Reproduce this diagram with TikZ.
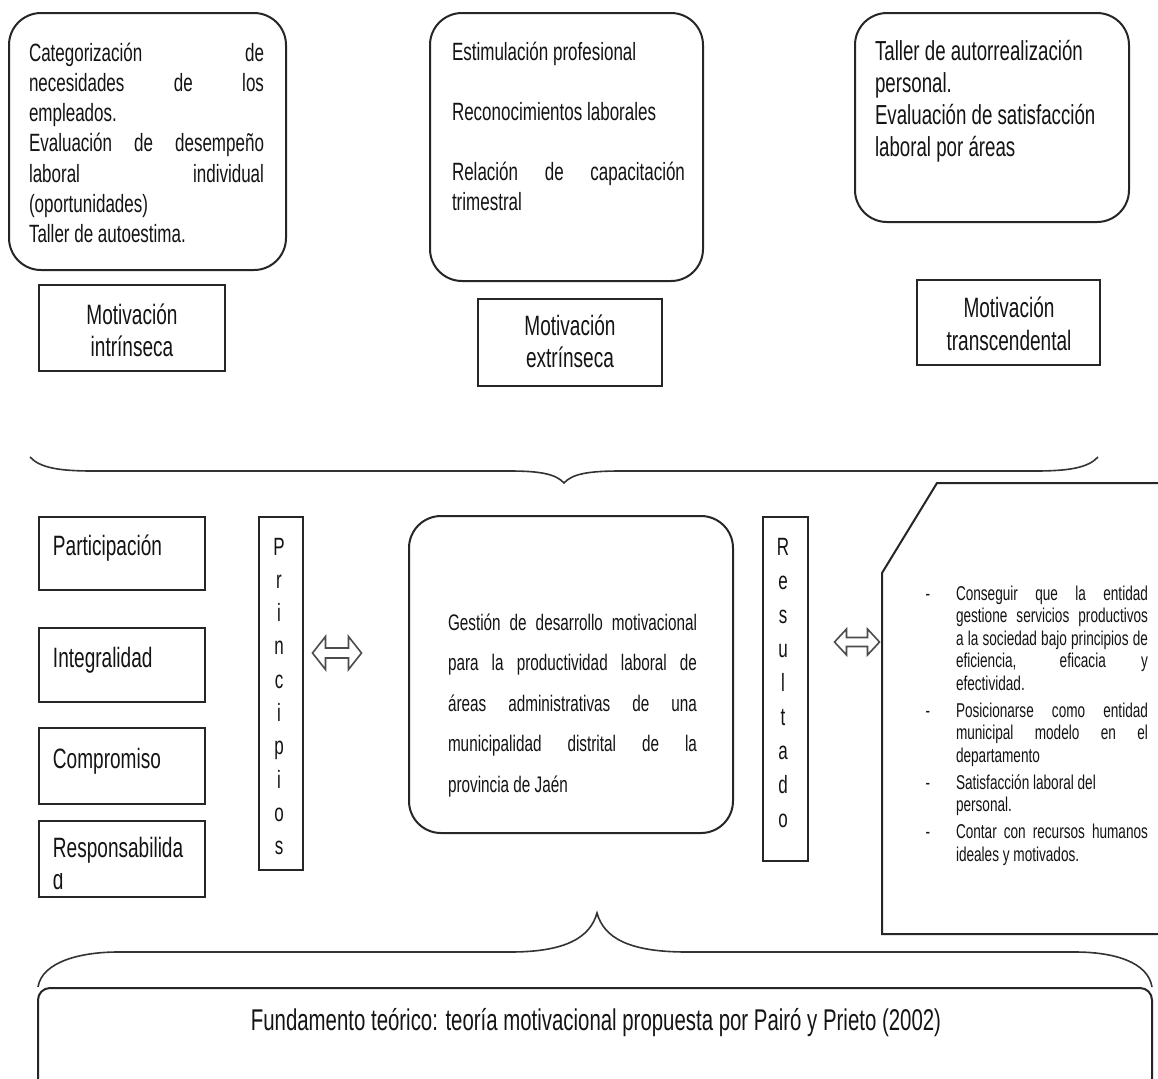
\documentclass[tikz,border=0pt]{standalone}
\usepackage{fontspec}
\setmainfont{Liberation Sans}[FakeStretch=0.68]
\usetikzlibrary{fit}
\newcommand\jus[1]{\makebox[\linewidth][s]{#1}}
\tikzset{
  rbox/.style={draw=black!85, line width=1pt, rounded corners=16pt, inner sep=0pt},
  sbox/.style={draw=black!85, line width=1pt, inner sep=0pt},
  txt/.style={inner sep=0pt, outer sep=0pt, text=black!92},
  brace/.style={draw=black!80, line width=0.8pt},
  dblarr/.style={draw=black!70, fill=white, line width=0.8pt, line join=miter},
}
\begin{document}
\begin{tikzpicture}[x=0.5pt,y=-0.5pt]
\useasboundingbox (0,0) rectangle (1158,1078);
\clip (0,0) rectangle (1158,1078);
\fill[white] (0,0) rectangle (1158,1078);

% ---- top rounded boxes
\node[rbox, fit={(9,13) (286,270)}] (tb1) {};
\node[txt, anchor=base west] (tb1t) at (29,61) {\parbox[t]{117.5pt}{\fontsize{12.5}{15.15}\selectfont
\jus{Categorización de}\\
\jus{necesidades de los}\\
empleados.\\
\jus{Evaluación de desempeño}\\
\jus{laboral individual}\\
(oportunidades)\\
Taller de autoestima.}};

\node[rbox, fit={(430,13) (703,281)}] (tb2) {};
\node[txt, anchor=base west] (tb2t) at (452,60) {\parbox[t]{116.5pt}{\fontsize{12.5}{15}\selectfont
Estimulación profesional\\[15pt]
Reconocimientos laborales\\[15pt]
\jus{Relación de capacitación}\\
trimestral}};

\node[rbox, fit={(855,13) (1129,222)}] (tb3) {};
\node[txt, anchor=base west] (tb3t) at (875,60) {\parbox[t]{125pt}{\fontsize{13.75}{16}\selectfont
Taller de autorrealización\\
personal.\\
Evaluación de satisfacción\\
laboral por áreas}};

% ---- motivation boxes
\node[sbox, fit={(39,285) (225,371)}] (mi) {};
\node[txt, anchor=base] (mit) at (132,324) {\parbox[t]{90pt}{\centering\fontsize{14}{16}\selectfont Motivación\\intrínseca}};
\node[sbox, fit={(478,299) (662,386)}] (me) {};
\node[txt, anchor=base] (met) at (570,335) {\parbox[t]{90pt}{\centering\fontsize{14}{16}\selectfont Motivación\\extrínseca}};
\node[sbox, fit={(917,280) (1100,365)}] (mt) {};
\node[txt, anchor=base] (mtt) at (1009,317) {\parbox[t]{90pt}{\centering\fontsize{14}{16.5}\selectfont Motivación\\transcendental}};

% ---- top brace
\draw[brace] (30,457) .. controls (40,468) and (60,471) .. (93,471) -- (510,471)
  .. controls (540,471) and (556,474) .. (564,483)
  .. controls (572,474) and (588,471) .. (620,471) -- (1035,471)
  .. controls (1068,471) and (1088,468) .. (1098,457);

% ---- left principle boxes
\node[sbox, fit={(39,517) (205,590)}] (lp) {};
\node[txt, anchor=base west] (lpt) at (53,555) {\fontsize{14}{16}\selectfont Participación};
\node[sbox, fit={(39,628) (205,702)}] (li) {};
\node[txt, anchor=base west] (lit) at (53,667) {\fontsize{14}{16}\selectfont Integralidad};
\node[sbox, fit={(39,728) (205,804)}] (lc) {};
\node[txt, anchor=base west] (lct) at (53,768) {\fontsize{14}{16}\selectfont Compromiso};
\node[sbox, fit={(39,821) (205,897)}] (lr) {};
\node[txt, anchor=base west] (lrt) at (53,857) {\fontsize{14}{16}\selectfont Responsabilida};
\begin{scope}
\clip (45,873) rectangle (120,894);
\node[txt, anchor=base west] (lrd) at (53,889) {\fontsize{14}{16}\selectfont d};
\end{scope}

% ---- Principios
\node[sbox, fit={(259,517) (303,870)}] (pr) {};
\node[txt, anchor=base] (prt) at (279,555) {\parbox[t]{20pt}{\centering\fontsize{12.5}{16.65}\selectfont P\\r\\i\\n\\c\\i\\p\\i\\o\\s}};

% ---- double arrows
\begin{scope}[shift={(337,653)}]
\draw[dblarr] (-24.5,0) -- (-11.5,-16.5) -- (-11.5,-5) -- (11.5,-5) -- (11.5,-16.5) -- (24.5,0)
  -- (11.5,16.5) -- (11.5,5) -- (-11.5,5) -- (-11.5,16.5) -- cycle;
\end{scope}
\begin{scope}[shift={(857,642)}]
\draw[dblarr] (-22.5,0) -- (-10.5,-13) -- (-10.5,-4.5) -- (10.5,-4.5) -- (10.5,-13) -- (22.5,0)
  -- (10.5,13) -- (10.5,4.5) -- (-10.5,4.5) -- (-10.5,13) -- cycle;
\end{scope}

% ---- central box
\node[rbox, fit={(409,516) (733,833)}] (gc) {};
\node[txt, anchor=base west] (gct) at (448,630) {\parbox[t]{124.5pt}{\fontsize{11.25}{20.25}\selectfont
\jus{Gestión de desarrollo motivacional}\\
\jus{para la productividad laboral de}\\
\jus{áreas administrativas de una}\\
\jus{municipalidad distrital de la}\\
provincia de Jaén}};

% ---- Resultado
\node[sbox, fit={(763,517) (808,861)}] (rs) {};
\node[txt, anchor=base] (rst) at (783,555) {\parbox[t]{20pt}{\centering\fontsize{12.5}{17.05}\selectfont R\\e\\s\\u\\l\\t\\a\\d\\o}};

% ---- right pentagon
\draw[draw=black!85, line width=1pt, line join=miter] (1170,483) -- (937,483) -- (882,573) -- (882,934) -- (1170,934);
\node[txt, anchor=base west] (rpt) at (956,600) {\parbox[t]{96pt}{\fontsize{10}{11.25}\selectfont
\jus{Conseguir que la entidad}\\
\jus{gestione servicios productivos}\\
\jus{a la sociedad bajo principios de}\\
\jus{eficiencia, eficacia y}\\
efectividad.\\[2.25pt]
\jus{Posicionarse como entidad}\\
\jus{municipal modelo en el}\\
departamento\\[2.25pt]
Satisfacción laboral del\\
personal.\\[2.25pt]
\jus{Contar con recursos humanos}\\
ideales y motivados.}};
\node[txt, anchor=base] (b1) at (928,600) {\fontsize{10}{11}\selectfont -};
\node[txt, anchor=base] (b2) at (928,717) {\fontsize{10}{11}\selectfont -};
\node[txt, anchor=base] (b3) at (928,789) {\fontsize{10}{11}\selectfont -};
\node[txt, anchor=base] (b4) at (928,838.5) {\fontsize{10}{11}\selectfont -};

% ---- bottom brace
\draw[brace] (38,987) .. controls (42,962) and (80,952) .. (118,952) -- (510,952)
  .. controls (565,952) and (590,938) .. (597,913)
  .. controls (604,938) and (629,952) .. (687,952) -- (1075,952)
  .. controls (1114,952) and (1148,962) .. (1152,987);

% ---- bottom box
\draw[draw=black!85, line width=1pt, rounded corners=6pt] (38,1100) -- (38,988) -- (1152,988) -- (1152,1100);
\node[txt, anchor=base] (fund) at (596,1030) {\fontsize{15}{18}\selectfont Fundamento teórico: teoría motivacional propuesta por Pairó y Prieto (2002)};
\end{tikzpicture}
\end{document}
